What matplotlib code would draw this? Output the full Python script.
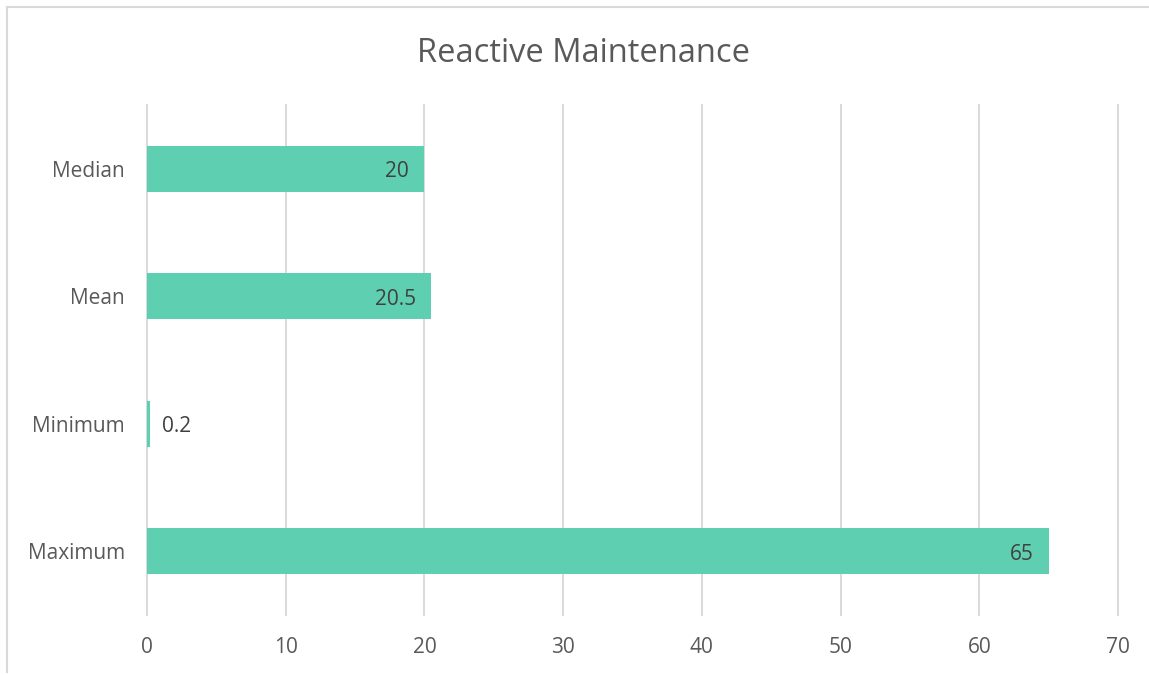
import matplotlib.pyplot as plt
from matplotlib.lines import Line2D

# Chart data (top to bottom as shown)
categories = ['Median', 'Mean', 'Minimum', 'Maximum']
values = [20, 20.5, 0.2, 65]
x_ticks = [0, 10, 20, 30, 40, 50, 60, 70]

plt.rcParams['font.family'] = ['Open Sans', 'DejaVu Sans']
text_color = '#595959'
bar_color = '#5ECFB1'
grid_color = '#D9D9D9'

fig = plt.figure(figsize=(11.49, 6.75), dpi=100)
ax = fig.add_axes([0.1279, 0.0889, 0.8451, 0.7556])

ypos = list(range(len(categories)))
bars = ax.barh(ypos, values, height=0.36, color=bar_color, zorder=3)

ax.set_ylim(len(categories) - 0.5, -0.5)
ax.set_xlim(0, 70)
ax.set_xticks(x_ticks)
ax.set_yticks(ypos)
ax.set_yticklabels(categories)

ax.grid(axis='x', color=grid_color, linewidth=1.4, zorder=0)
ax.grid(axis='y', visible=False)
for gl in ax.get_xgridlines():
    gl.set_clip_on(False)
for s in ax.spines.values():
    s.set_visible(False)
ax.tick_params(axis='both', length=0, labelsize=15, labelcolor=text_color)
ax.tick_params(axis='y', pad=16)
ax.tick_params(axis='x', pad=16)

# Value labels
for y, v in zip(ypos, values):
    label = f'{v:g}'
    if v > 5:
        ax.annotate(label, (v, y), xytext=(-11, -2), textcoords='offset points',
                    ha='right', va='center', fontsize=15, color='#404040', zorder=4)
    else:
        ax.annotate(label, (v, y), xytext=(9, -2), textcoords='offset points',
                    ha='left', va='center', fontsize=15, color='#404040', zorder=4)

fig.text(0.508, 0.921, 'Reactive Maintenance', ha='center', va='center',
         fontsize=23.5, color=text_color)

# Chart area border (left and top edges visible)
fig.add_artist(Line2D([0.0065, 0.0065], [0.004, 0.9896], transform=fig.transFigure,
                      color=grid_color, linewidth=1.5))
fig.add_artist(Line2D([0.0065, 1.0], [0.9896, 0.9896], transform=fig.transFigure,
                      color=grid_color, linewidth=1.5))

fig.savefig('out.png', dpi=100, facecolor='white')
